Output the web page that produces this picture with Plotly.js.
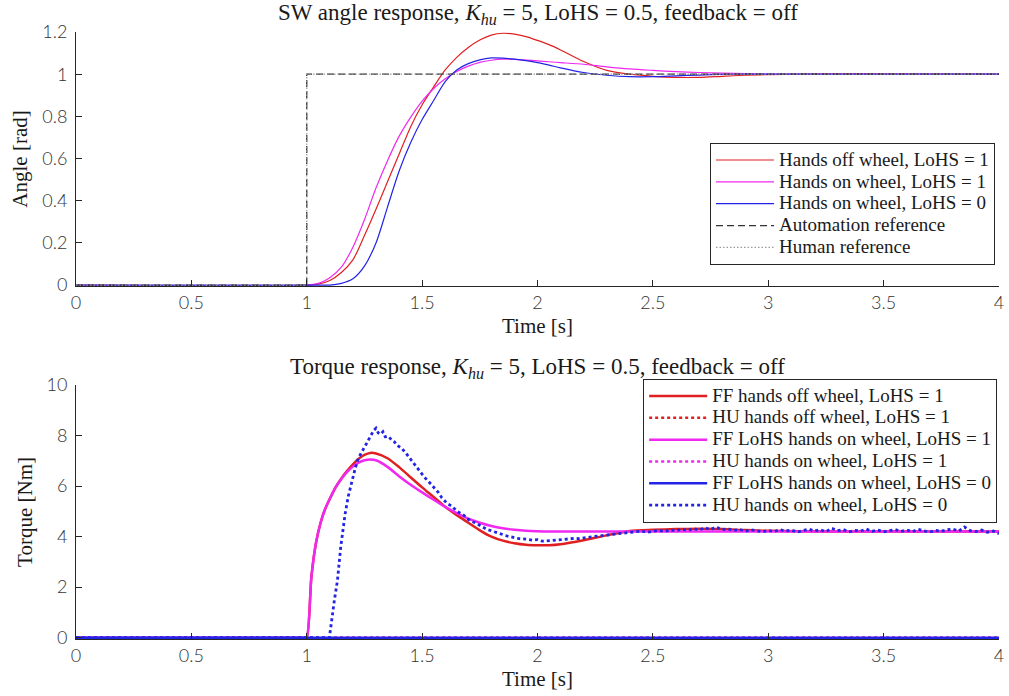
<!DOCTYPE html>
<html>
<head>
<meta charset="utf-8">
<script src="https://cdn.plot.ly/plotly-3.0.1.min.js"></script>
<style>html,body{margin:0;padding:0;background:#fff;}#chart{width:1009px;height:696px;}</style>
</head>
<body>
<div id="chart"></div>
<script>
// ---------- Top panel: steering-wheel angle [rad] ----------
const tAngle = [0, 1.0, 1.05, 1.1, 1.15, 1.2, 1.25, 1.3, 1.35, 1.4, 1.45, 1.5, 1.55, 1.6, 1.65, 1.7, 1.75, 1.8, 1.85, 1.9, 1.95, 2.0, 2.05, 2.1, 2.2, 2.3, 2.4, 2.5, 2.6, 2.7, 2.8, 2.9, 3.0, 3.25, 3.5, 4.0];
const angleHandsOff1 = [0, 0, 0.005, 0.022, 0.06, 0.12, 0.235, 0.36, 0.49, 0.62, 0.75, 0.855, 0.94, 1.02, 1.08, 1.127, 1.162, 1.185, 1.194, 1.19, 1.178, 1.16, 1.14, 1.115, 1.06, 1.018, 1.0, 0.99, 0.985, 0.985, 0.99, 0.995, 0.998, 1.002, 1.002, 1.0];
const angleHandsOn1  = [0, 0, 0.008, 0.035, 0.085, 0.18, 0.31, 0.46, 0.59, 0.705, 0.795, 0.872, 0.932, 0.978, 1.013, 1.038, 1.056, 1.066, 1.071, 1.07, 1.067, 1.063, 1.059, 1.055, 1.047, 1.035, 1.025, 1.018, 1.012, 1.008, 1.005, 1.003, 1.001, 1.0, 1.0, 1.0];
const angleHandsOn0  = [0, 0, 0, 0, 0.008, 0.03, 0.09, 0.2, 0.37, 0.54, 0.675, 0.785, 0.875, 0.965, 1.02, 1.05, 1.068, 1.077, 1.076, 1.071, 1.064, 1.055, 1.043, 1.03, 1.008, 0.995, 0.988, 0.988, 0.992, 0.996, 0.999, 1.0, 1.0, 1.0, 1.0, 1.0];
const tRef = [0, 1, 1, 4];
const angleRef = [0, 0, 1, 1];

// ---------- Bottom panel: torque [Nm] ----------
const tTorqueFF = [0, 0.99, 1.0, 1.02, 1.04, 1.06, 1.08, 1.1, 1.125, 1.15, 1.175, 1.2, 1.225, 1.25, 1.275, 1.3, 1.35, 1.4, 1.45, 1.5, 1.55, 1.6, 1.65, 1.7, 1.75, 1.8, 1.85, 1.9, 1.95, 2.0, 2.05, 2.1, 2.2, 2.3, 2.4, 2.5, 2.6, 2.7, 2.8, 2.9, 3.0, 3.25, 3.5, 4.0];
const torqueFFHandsOff1 = [0, 0, 0, 2.4, 3.75, 4.55, 5.1, 5.5, 5.95, 6.3, 6.6, 6.86, 7.08, 7.23, 7.31, 7.29, 7.1, 6.75, 6.35, 5.95, 5.57, 5.18, 4.85, 4.55, 4.25, 4.0, 3.84, 3.74, 3.68, 3.66, 3.66, 3.7, 3.86, 4.05, 4.22, 4.27, 4.3, 4.31, 4.3, 4.26, 4.23, 4.2, 4.2, 4.2];
const torqueFFHandsOn1  = [0, 0, 0, 2.4, 3.75, 4.55, 5.1, 5.5, 5.95, 6.28, 6.56, 6.77, 6.93, 7.02, 7.05, 7.02, 6.76, 6.39, 6.05, 5.75, 5.46, 5.18, 4.93, 4.71, 4.55, 4.42, 4.33, 4.27, 4.23, 4.21, 4.2, 4.2, 4.2, 4.2, 4.2, 4.2, 4.2, 4.2, 4.2, 4.2, 4.2, 4.2, 4.2, 4.2];
const tZero = [0, 4];
const torqueZero = [0, 0];
const tTorqueHU0 = [0, 1.098, 1.12, 1.133, 1.147, 1.166, 1.18, 1.195, 1.21, 1.224, 1.235, 1.245, 1.26, 1.275, 1.29, 1.3, 1.31, 1.32, 1.33, 1.34, 1.354, 1.37, 1.38, 1.39, 1.411, 1.43, 1.45, 1.469, 1.49, 1.51, 1.527, 1.55, 1.57, 1.585, 1.61, 1.63, 1.65, 1.68, 1.708, 1.73, 1.75, 1.78, 1.81, 1.84, 1.87, 1.895, 1.92, 1.95, 1.98, 2.0, 2.02, 2.04, 2.07, 2.1, 2.13, 2.16, 2.18, 2.21, 2.24, 2.27, 2.3, 2.33, 2.36, 2.39, 2.42, 2.45, 2.475,
  2.5, 2.525, 2.55, 2.575, 2.6, 2.625, 2.65, 2.675, 2.7, 2.725, 2.75, 2.775, 2.8, 2.825, 2.85, 2.875, 2.9, 2.925, 2.95, 2.975, 3.0, 3.025, 3.05, 3.075, 3.1, 3.125, 3.15, 3.175, 3.2, 3.225, 3.25, 3.275, 3.3, 3.325, 3.35, 3.375, 3.4, 3.425, 3.45, 3.475, 3.5, 3.525, 3.55, 3.575, 3.6, 3.625, 3.65, 3.675, 3.7, 3.725, 3.75, 3.775, 3.8, 3.825, 3.85, 3.875, 3.9, 3.925, 3.95, 3.975, 4.0];
const torqueHUHandsOn0 = [0, 0, 1.5, 2.26, 3.57, 4.88, 5.6, 6.19, 6.7, 7.11, 7.3, 7.5, 7.7, 7.95, 8.2, 8.29, 8.1, 8.05, 8.15, 7.95, 7.97, 7.8, 7.75, 7.62, 7.5, 7.3, 7.05, 6.85, 6.6, 6.35, 6.19, 5.95, 5.75, 5.54, 5.3, 5.2, 5.01, 4.85, 4.62, 4.55, 4.45, 4.29, 4.2, 4.1, 4.02, 3.97, 3.92, 3.9, 3.86, 3.88, 3.82, 3.83, 3.86, 3.88, 3.9, 3.93, 3.92, 3.97, 4.0, 4.03, 4.06, 4.09, 4.12, 4.15, 4.18, 4.22, 4.17,
  4.22, 4.25, 4.2, 4.27, 4.23, 4.3, 4.24, 4.32, 4.26, 4.35, 4.28, 4.38, 4.27, 4.31, 4.24, 4.29, 4.21, 4.27, 4.23, 4.19, 4.25, 4.2, 4.28, 4.22, 4.26, 4.18, 4.24, 4.3, 4.22, 4.27, 4.2, 4.33, 4.24, 4.28, 4.19, 4.25, 4.22, 4.3, 4.21, 4.26, 4.19, 4.24, 4.28, 4.21, 4.26, 4.2, 4.29, 4.23, 4.18, 4.25, 4.21, 4.27, 4.3, 4.22, 4.38, 4.24, 4.2, 4.26, 4.17, 4.22, 4.12];

// ---------- Text ----------
const titleTop = 'SW angle response, <i>K</i><sub><i>hu</i></sub> = 5, LoHS = 0.5, feedback = off';
const titleBottom = 'Torque response, <i>K</i><sub><i>hu</i></sub> = 5, LoHS = 0.5, feedback = off';
const namesTop = ['Hands off wheel, LoHS = 1', 'Hands on wheel, LoHS = 1', 'Hands on wheel, LoHS = 0', 'Automation reference', 'Human reference'];
const namesBottom = ['FF hands off wheel, LoHS = 1', 'HU hands off wheel, LoHS = 1', 'FF LoHS hands on wheel, LoHS = 1', 'HU hands on wheel, LoHS = 1', 'FF LoHS hands on wheel, LoHS = 0', 'HU hands on wheel, LoHS = 0'];

const RED = '#e02020', MAG = '#f028f0', BLUE = '#2323e6';
const lbl = s => '<span style="font-size:19px">' + s + '</span>';

const traces = [
  {x: tAngle, y: angleHandsOff1, name: lbl(namesTop[0]), legend: 'legend', xaxis: 'x', yaxis: 'y', mode: 'lines', line: {color: RED, width: 1.2, shape: 'spline', smoothing: 0.8}},
  {x: tAngle, y: angleHandsOn1, name: lbl(namesTop[1]), legend: 'legend', xaxis: 'x', yaxis: 'y', mode: 'lines', line: {color: MAG, width: 1.2, shape: 'spline', smoothing: 0.8}},
  {x: tAngle, y: angleHandsOn0, name: lbl(namesTop[2]), legend: 'legend', xaxis: 'x', yaxis: 'y', mode: 'lines', line: {color: BLUE, width: 1.2, shape: 'spline', smoothing: 0.8}},
  {x: tRef, y: angleRef, name: lbl(namesTop[3]), legend: 'legend', xaxis: 'x', yaxis: 'y', mode: 'lines', line: {color: '#333333', width: 1.3, dash: '7px,4px'}},
  {x: tRef, y: angleRef, name: lbl(namesTop[4]), legend: 'legend', xaxis: 'x', yaxis: 'y', mode: 'lines', line: {color: '#9a9a9a', width: 1.2, dash: '1.5px,2px'}},

  {x: tTorqueFF, y: torqueFFHandsOff1, name: lbl(namesBottom[0]), legend: 'legend2', xaxis: 'x2', yaxis: 'y2', mode: 'lines', line: {color: RED, width: 2.5, shape: 'spline', smoothing: 0.7}},
  {x: tZero, y: torqueZero, name: lbl(namesBottom[1]), legend: 'legend2', xaxis: 'x2', yaxis: 'y2', mode: 'lines', line: {color: RED, width: 2.5, dash: 'dot'}},
  {x: tTorqueFF, y: torqueFFHandsOn1, name: lbl(namesBottom[2]), legend: 'legend2', xaxis: 'x2', yaxis: 'y2', mode: 'lines', line: {color: MAG, width: 2.5, shape: 'spline', smoothing: 0.7}},
  {x: tZero, y: torqueZero, name: lbl(namesBottom[3]), legend: 'legend2', xaxis: 'x2', yaxis: 'y2', mode: 'lines', line: {color: MAG, width: 2.5, dash: 'dot'}},
  {x: tZero, y: torqueZero, name: lbl(namesBottom[4]), legend: 'legend2', xaxis: 'x2', yaxis: 'y2', mode: 'lines', line: {color: BLUE, width: 2.5}},
  {x: tTorqueHU0, y: torqueHUHandsOn0, name: lbl(namesBottom[5]), legend: 'legend2', xaxis: 'x2', yaxis: 'y2', mode: 'lines', line: {color: BLUE, width: 2.8, dash: 'dot'}}
];

const serif = 'Liberation Serif, Times New Roman, serif';
const titleFont = {family: serif, size: 21, color: '#1a1a1a', weight: 'normal'};
const tickFont = {family: 'Lato, Liberation Sans, sans-serif', size: 18, color: '#333333', weight: 300};
const axBase = {showline: true, linecolor: '#262626', linewidth: 1, ticks: 'inside', ticklen: 6, tickcolor: '#262626', showgrid: false, zeroline: false, tickfont: tickFont, automargin: false, mirror: false};

const legendBase = {bgcolor: '#ffffff', bordercolor: '#262626', borderwidth: 1, font: {family: serif, size: 14.5, color: '#1a1a1a'}, xanchor: 'right', yanchor: 'top', itemwidth: 58, tracegroupgap: 0, xref: 'paper', yref: 'paper'};

const layout = {
  width: 1009, height: 696,
  margin: {l: 76, r: 10, t: 32, b: 57},
  paper_bgcolor: '#ffffff', plot_bgcolor: '#ffffff',
  showlegend: true,
  font: {family: serif, color: '#1a1a1a'},
  xaxis: Object.assign({}, axBase, {domain: [0, 1], anchor: 'y', range: [0, 4], dtick: 0.5, tick0: 0,
    title: {text: 'Time [s]', font: titleFont, standoff: 6}}),
  yaxis: Object.assign({}, axBase, {domain: [0.5816, 1], anchor: 'x', range: [-0.004, 1.2], dtick: 0.2, tick0: 0, ticklabelstandoff: 4,
    title: {text: 'Angle [rad]', font: titleFont, standoff: 8}}),
  xaxis2: Object.assign({}, axBase, {domain: [0, 1], anchor: 'y2', range: [0, 4], dtick: 0.5, tick0: 0,
    title: {text: 'Time [s]', font: titleFont, standoff: 6}}),
  yaxis2: Object.assign({}, axBase, {domain: [0, 0.4185], anchor: 'x2', range: [-0.05, 10], dtick: 2, tick0: 0, ticklabelstandoff: 4,
    title: {text: 'Torque [Nm]', font: titleFont, standoff: 8}}),
  legend: Object.assign({}, legendBase, {x: 0.9957, y: 0.817}),
  legend2: Object.assign({}, legendBase, {x: 0.998, y: 0.4283}),
  annotations: [
    {text: titleTop, xref: 'paper', yref: 'paper', x: 0.5, y: 1.0297, xanchor: 'center', yanchor: 'middle', showarrow: false, font: {family: serif, size: 23, color: '#1a1a1a'}},
    {text: titleBottom, xref: 'paper', yref: 'paper', x: 0.5, y: 0.4465, xanchor: 'center', yanchor: 'middle', showarrow: false, font: {family: serif, size: 23, color: '#1a1a1a'}}
  ]
};

Plotly.newPlot('chart', traces, layout, {displayModeBar: false, staticPlot: true});
</script>
</body>
</html>
